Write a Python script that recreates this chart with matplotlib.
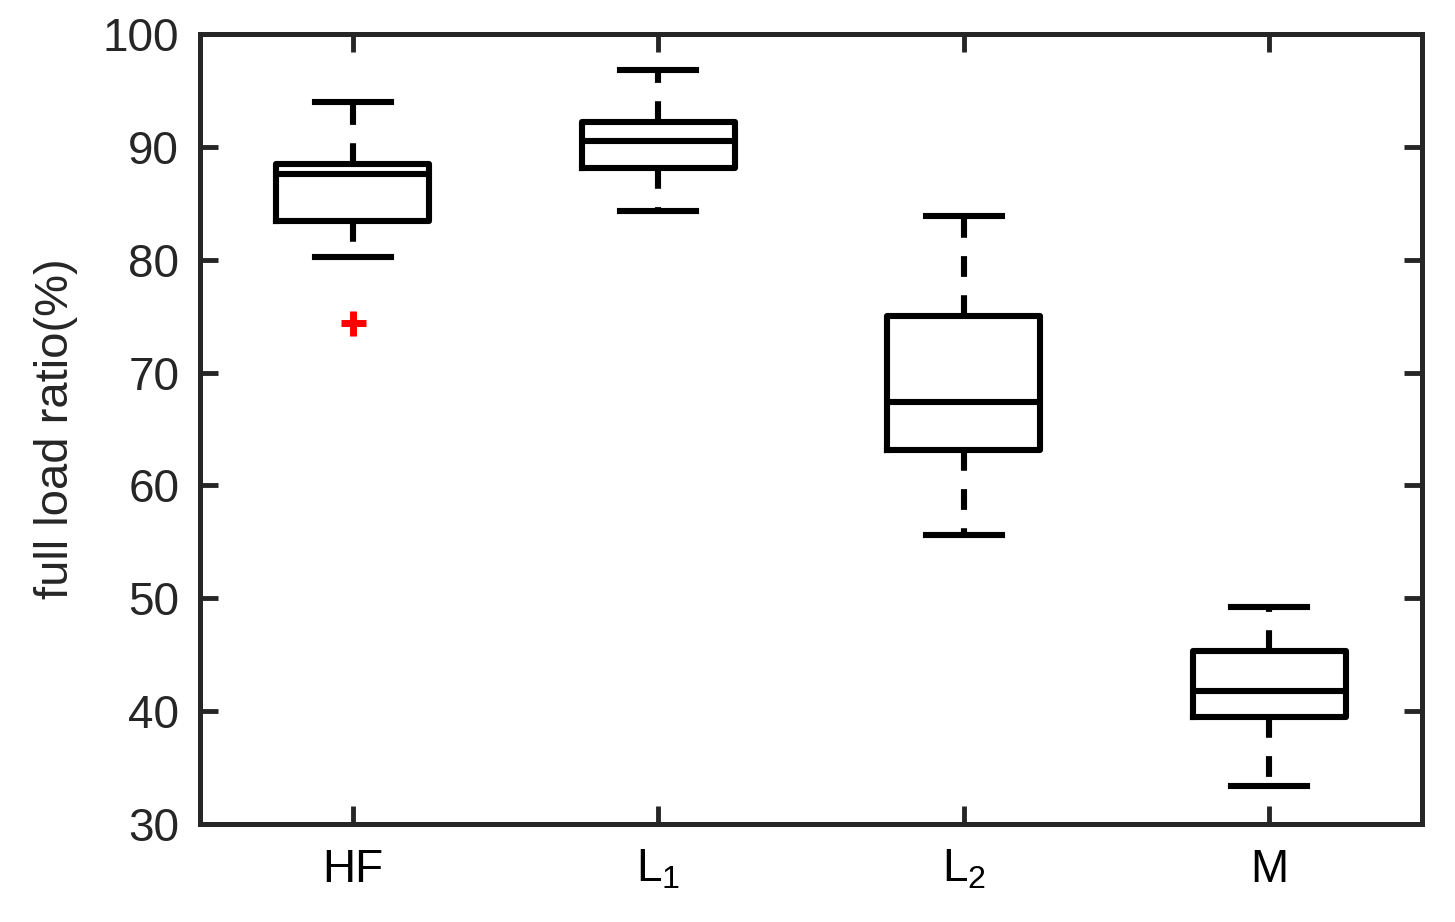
import matplotlib.pyplot as plt

plt.rcParams['font.family'] = ['Liberation Sans', 'DejaVu Sans']
plt.rcParams['mathtext.fontset'] = 'custom'
plt.rcParams['mathtext.rm'] = 'Liberation Sans'
plt.rcParams['mathtext.default'] = 'regular'

# category labels and box statistics
labels = ['HF', r'L$_1$', r'L$_2$', 'M']
whislo = [80.25, 84.3, 55.6, 33.4]
q1 = [83.4, 88.1, 63.1, 39.5]
med = [87.6, 90.5, 67.4, 41.8]
q3 = [88.5, 92.2, 75.0, 45.3]
whishi = [94.0, 96.8, 83.9, 49.2]
fliers = [[74.4], [], [], []]

stats = []
for i in range(len(labels)):
    stats.append(dict(whislo=whislo[i], q1=q1[i], med=med[i], q3=q3[i],
                      whishi=whishi[i], fliers=fliers[i], label=labels[i]))

fig = plt.figure(figsize=(14.55, 9.22), dpi=100)
ax = fig.add_axes([0.1375, 0.1063, 0.8398, 0.8568])

lw = 4.4
ax.bxp(stats, positions=[1, 2, 3, 4], widths=0.5, capwidths=0.25,
       boxprops=dict(color='black', linewidth=lw),
       medianprops=dict(color='black', linewidth=lw),
       whiskerprops=dict(color='black', linewidth=lw, linestyle=(0, (3.4, 3.0))),
       capprops=dict(color='black', linewidth=lw),
       flierprops=dict(marker='+', markeredgecolor='red', markersize=18,
                       markeredgewidth=5, linestyle='none'))

ax.set_xlim(0.5, 4.5)
ax.set_ylim(30, 100)
ax.set_yticks(range(30, 101, 10))
ax.set_ylabel('full load ratio(%)', fontsize=34, color='#262626')
ax.yaxis.set_label_coords(-0.1, 0.5)

ax.tick_params(axis='both', direction='in', length=13, width=3.5, colors='#262626',
               labelsize=33, top=True, right=True, pad=15)
ax.tick_params(axis='x', labelcolor='black', pad=17)
for s in ax.spines.values():
    s.set_linewidth(3.6)
    s.set_color('#262626')

fig.savefig('out.png', dpi=100)
